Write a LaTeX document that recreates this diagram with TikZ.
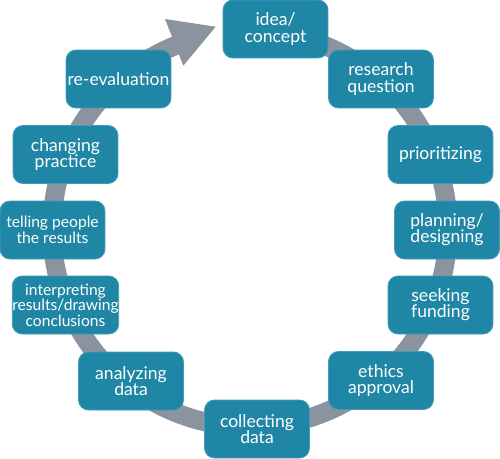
\documentclass[tikz,border=0pt]{standalone}
\usepackage{fontspec}
\setmainfont{Lato}
\usetikzlibrary{calc}
\definecolor{boxteal}{HTML}{1F87A5}
\definecolor{boxedge}{HTML}{3F9DB9}
\definecolor{arrowgray}{HTML}{8B949E}
\begin{document}
\begin{tikzpicture}[x=0.02cm,y=0.02cm,
  stage/.style={rectangle, rounded corners=0.2cm, fill=boxteal, draw=boxedge,
    line width=0.5pt, minimum width=2.1cm, minimum height=1.16cm, text=white,
    align=center, inner sep=0pt, font=\fontsize{10}{9.2}\selectfont},
  smalltext/.style={font=\fontsize{8.9}{8.8}\selectfont},
  cycleline/.style={arrowgray, line width=0.38cm}]
\useasboundingbox (0,0) rectangle (500,458);
\coordinate (c) at (250,229);
\coordinate (tip) at (215.7,431.3);
\coordinate (w1) at (165,439);
\coordinate (w2) at (183.3,392.3);
\draw[cycleline] ($(c)+(85:198)$) arc[start angle=85, end angle=-249, radius=198];
\fill[arrowgray] (tip) -- (w1) -- (w2) -- cycle;

\node[stage] (idea) at (275.5,429) {idea/\\concept};
\node[stage] (research) at (381,379) {research\\question};
\node[stage] (prior) at (440.5,303.5) {prioritizing};
\node[stage] (plan) at (447,228) {planning/\\designing};
\node[stage] (fund) at (440.5,153) {seeking\\funding};
\node[stage] (ethics) at (381,77.5) {ethics\\approval};
\node[stage] (collect) at (257,29) {collecting\\data};
\node[stage] (analyze) at (131,77) {analyzing\\data};
\node[stage, smalltext] (interp) at (65.5,153) {interpreting\\results/drawing\\conclusions};
\node[stage, smalltext] (tell) at (52.5,228) {telling people\\the results};
\node[stage] (change) at (65.5,303.5) {changing\\practice};
\node[stage] (reeval) at (118.5,379) {re-evaluation};
\end{tikzpicture}
\end{document}
